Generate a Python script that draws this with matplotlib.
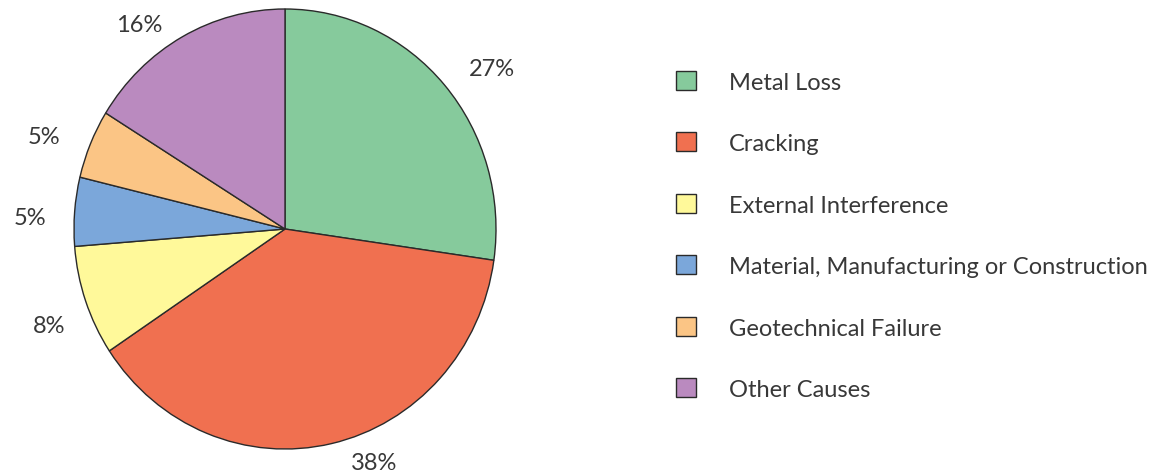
import matplotlib.pyplot as plt

# Data
categories = ['Metal Loss', 'Cracking', 'External Interference',
              'Material, Manufacturing or Construction',
              'Geotechnical Failure', 'Other Causes']
shares = [27, 38, 8, 5, 5, 16]
colors = ['#86CA9C', '#F07050', '#FFF99A', '#7BA7DA', '#FBC585', '#BA8ABF']

# where the percent labels sit, in pie units (centre = 0,0)
label_pos = [(0.98, 0.73), (0.42, -1.06), (-1.12, -0.44),
             (-1.21, 0.05), (-1.14, 0.42), (-0.69, 0.93)]

plt.rcParams['font.family'] = ['Lato', 'DejaVu Sans']
text_color = '#383838'

fig = plt.figure(figsize=(11.54, 4.77), dpi=100)

# Pie axes, the reference pie is a touch taller than wide
ax = fig.add_axes([74 / 1154, 27 / 477, 422 / 1154, 440 / 477])
wedges, texts, autotexts = ax.pie(
    shares, colors=colors, startangle=90, counterclock=False,
    autopct='%.0f%%', pctdistance=1.2, radius=1,
    wedgeprops=dict(edgecolor='#2a2a2a', linewidth=1.0),
    textprops=dict(fontsize=17, color=text_color))
ax.set_xlim(-1, 1)
ax.set_ylim(-1, 1)
ax.set_aspect('auto')
for t, (x, y) in zip(autotexts, label_pos):
    t.set_position((x, y))
    t.set_ha('center')
    t.set_va('center')
    t.set_clip_on(False)

# Legend on the right
leg = fig.legend(wedges, categories, loc='upper left',
                 bbox_to_anchor=(676 / 1154, 1 - 72 / 477),
                 frameon=False, fontsize=17, borderpad=0, borderaxespad=0,
                 handlelength=0.85, handleheight=0.85, handletextpad=1.4,
                 labelspacing=1.69)
for t in leg.get_texts():
    t.set_color(text_color)

plt.savefig('out.png', dpi=100)
